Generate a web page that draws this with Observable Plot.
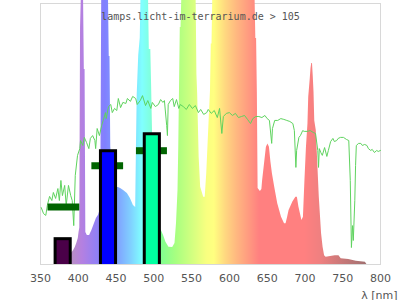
<!DOCTYPE html>
<html><head><meta charset="utf-8">
<script src="https://cdn.jsdelivr.net/npm/d3@7"></script>
<script src="https://cdn.jsdelivr.net/npm/@observablehq/plot@0.6"></script>
<style>body{margin:0;background:#fff}</style>
</head><body><div id="chart"></div>
<script>
// Lamp spectrum (relative, 100 = top of frame; peaks run past the frame)
const specNm  = [390,392,394,396,398,400,401,402,403,404,407,408,409,410,412,415,418,421,424,427,429,430,431,440,441,442,443,446,450,453,456,460,465,469,473,476,477,478,480,482,483,493,494,496,497,499,503,507,510,513,516,520,525,528,530,532,533,535,536,537,556,557,558,560,562,566,568,570,572,574,575,576,577,578,634,635,636,637,638,641,643,644,647,649,651,653,655,657,660,664,669,673,675,677,679,684,688,690,692,696,698,700,702,704,705,707,708,709,710,711,712,713,715,717,719,722,724,726,728,740,745,748,758,768,780,782];
const specVal = [4.2,4.6,5.5,6.5,8,10,12.3,14,90.8,102,102,74.7,74.7,12.3,11.1,11.1,13,15.3,17.6,19,21,40,102,102,79.7,79.7,45,32,29.6,29.5,29.1,28.4,27.2,25.3,22.6,21.8,45,65,80,86.7,102,102,82.4,82.4,69.3,40,20,14,13,11,8.5,6.6,6.5,8,15.7,28.4,44.9,90.8,90.8,102,102,73,65.5,41.1,29.6,25.8,25.8,34.7,47.5,60.3,66.7,84.5,84.5,102,102,86.6,86.6,66,29.1,28,28.7,32.2,39.8,44.9,46.2,44.9,39.2,34.7,29.6,23.3,18.1,15.6,15.6,18,20.7,23.9,25.8,25.8,22,16.9,18.1,32.2,44.9,53.9,64.1,71,75,77,77,72,66,55,51.3,38.6,25.8,11.8,6.6,3.4,2.8,3.4,3.4,2.2,1.9,1.2,0.9,0];

// Reference daylight curve
const sunNm  = [351,354,357,359,362,365,367,370,373,375,377,379,382,384,387,390,392,394,396,399,402,403,406,408,411,414,416,419,422,423,425,428,431,433,436,437,440,443,445,448,451,453,456,459,463,465,469,472,476,478,482,485,489,492,496,498,502,506,509,512,514,517,518,519,522,525,527,530,533,535,539,543,547,551,555,559,562,566,570,572,576,580,584,587,590,592,596,600,604,608,612,616,620,624,628,631,635,639,643,647,650,653,656,657,660,664,668,672,676,680,684,686,688,689,692,694,697,699,703,707,711,714,717,718,719,721,723,726,729,731,734,737,739,742,744,747,751,755,758,760,761.5,763,764,766,767,768,771,774,776,779,782,784,787,789,792,795,797,800];
const sunVal = [21.8,19.5,18.8,22.6,26.1,24.5,27.6,25.3,29.1,24.5,32.2,26.4,30.3,22.6,30.3,26.4,24.5,14.9,34.1,41.8,44.4,47.5,45.6,48.7,46.7,44.4,48.3,49.4,47.5,44.4,52.1,49.4,53.3,55.2,58.2,55.9,60.5,61.3,58.2,59.8,59,63.6,60.1,62.1,61.7,63.6,62.5,64.4,63.6,61.3,62.8,64.7,60.9,62.8,59.8,62.1,60.5,61.3,63.2,62.1,62.8,53.3,49.4,61.3,62.8,63.6,60.5,63.2,59.8,61.3,60.5,59.4,61.3,59.8,60.9,58.2,59.4,57.5,58.2,59.4,57.9,59,56.3,59.8,50.2,56.7,57.9,58.2,57.1,57.9,56.3,56.7,57.1,55.6,54,55.9,56.7,56.7,56.3,57.1,55.9,55.2,46.4,52.1,55.2,55.2,55.9,55.6,55.2,54.8,54,51.3,37.2,43.7,48.7,49.4,51.3,51,51,51.3,50.6,50.2,43.7,37.2,44.4,42.9,41.8,44.8,41.4,43.7,47.1,48.3,47.1,47.5,48.3,48.7,48.7,47.9,47.5,32.2,6.5,14.9,9.2,24.5,37.9,45.6,46.4,46.4,45.6,46,45.6,44.4,43.7,44.1,42.9,43.7,43.3,43.7];

// Bars (LED-like bands) and their marker levels
const barX1 = [370, 430, 488];
const barX2 = [390, 450, 508];
const barVal = [9.7, 43.4, 49.9];
const barColor = ["#4a0048", "#0000ff", "#00ffa0"];
const markX1 = [360, 418, 477];
const markX2 = [402, 460, 518];
const markVal = [22, 37.8, 43.6];

const xTicks = [350,400,450,500,550,600,650,700,750,800];
const titleText = "lamps.licht-im-terrarium.de > 105";
const xLabel = "λ [nm]";

// spectral colour stops (style)
const stopNm  = [390,405,420,436,455,470,485,495,510,530,550,570,580,595,610,625,640,700,720,750,782];
const stopCol = ["#b890c0","#b580e0","#9a80f0","#8080ff","#80a8ff","#80d0ff","#80ffff","#80ffe0","#80ff90","#a8ff80","#d0ff80","#f8ff80","#ffff80","#ffd880","#ffb880","#ff9c80","#ff8080","#ff8080","#f08080","#c87878","#a07070"];

const spec = specNm.map((nm, i) => ({nm, v: specVal[i]}));
const sun = sunNm.map((nm, i) => ({nm, v: sunVal[i]}));
const bars = barX1.map((x1, i) => ({x1, x2: barX2[i], v: barVal[i], c: barColor[i]}));
const marks = markX1.map((x1, i) => ({x1, x2: markX2[i], v: markVal[i]}));

const chart = Plot.plot({
  width: 400, height: 300,
  marginTop: 3, marginRight: 20, marginBottom: 36, marginLeft: 40,
  style: {fontFamily: "DejaVu Sans, sans-serif", fontSize: "11px", color: "#555", background: "#fff", overflow: "visible"},
  x: {domain: [350, 800]},
  y: {domain: [0, 100], axis: null},
  marks: [
    Plot.frame({stroke: "#d8d8d8"}),
    Plot.areaY(spec, {x: "nm", y: "v", fill: "url(#specGrad)", curve: "linear"}),
    Plot.line(sun, {x: "nm", y: "v", stroke: "#5fd35f", strokeWidth: 1}),
    Plot.ruleY(marks, {y: "v", x1: "x1", x2: "x2", stroke: "#006400", strokeWidth: 7}),
    Plot.rectY(bars, {x1: "x1", x2: "x2", y: "v", fill: "c", stroke: "#000", strokeWidth: 3, insetBottom: -5, clip: true}),
    Plot.axisX({ticks: xTicks, tickSize: 0, tickPadding: 10, tickFormat: d => String(d), label: xLabel, labelAnchor: "right", labelOffset: 34, labelArrow: "none"}),
    Plot.text([titleText], {frameAnchor: "top", dx: -10, dy: 9, fontFamily: "DejaVu Sans Mono, monospace", fontSize: 10, fill: "#555"})
  ]
});
document.getElementById("chart").appendChild(chart);

// gradient for the spectrum fill, placed via the x scale
const xs = chart.scale("x");
const ns = "http://www.w3.org/2000/svg";
const defs = document.createElementNS(ns, "defs");
const grad = document.createElementNS(ns, "linearGradient");
grad.setAttribute("id", "specGrad");
grad.setAttribute("gradientUnits", "userSpaceOnUse");
const gx1 = xs.apply(stopNm[0]), gx2 = xs.apply(stopNm[stopNm.length - 1]);
grad.setAttribute("x1", gx1); grad.setAttribute("x2", gx2);
grad.setAttribute("y1", 0); grad.setAttribute("y2", 0);
stopNm.forEach((nm, i) => {
  const s = document.createElementNS(ns, "stop");
  s.setAttribute("offset", (xs.apply(nm) - gx1) / (gx2 - gx1));
  s.setAttribute("stop-color", stopCol[i]);
  grad.appendChild(s);
});
defs.appendChild(grad);
chart.insertBefore(defs, chart.firstChild);
</script>
</body></html>
